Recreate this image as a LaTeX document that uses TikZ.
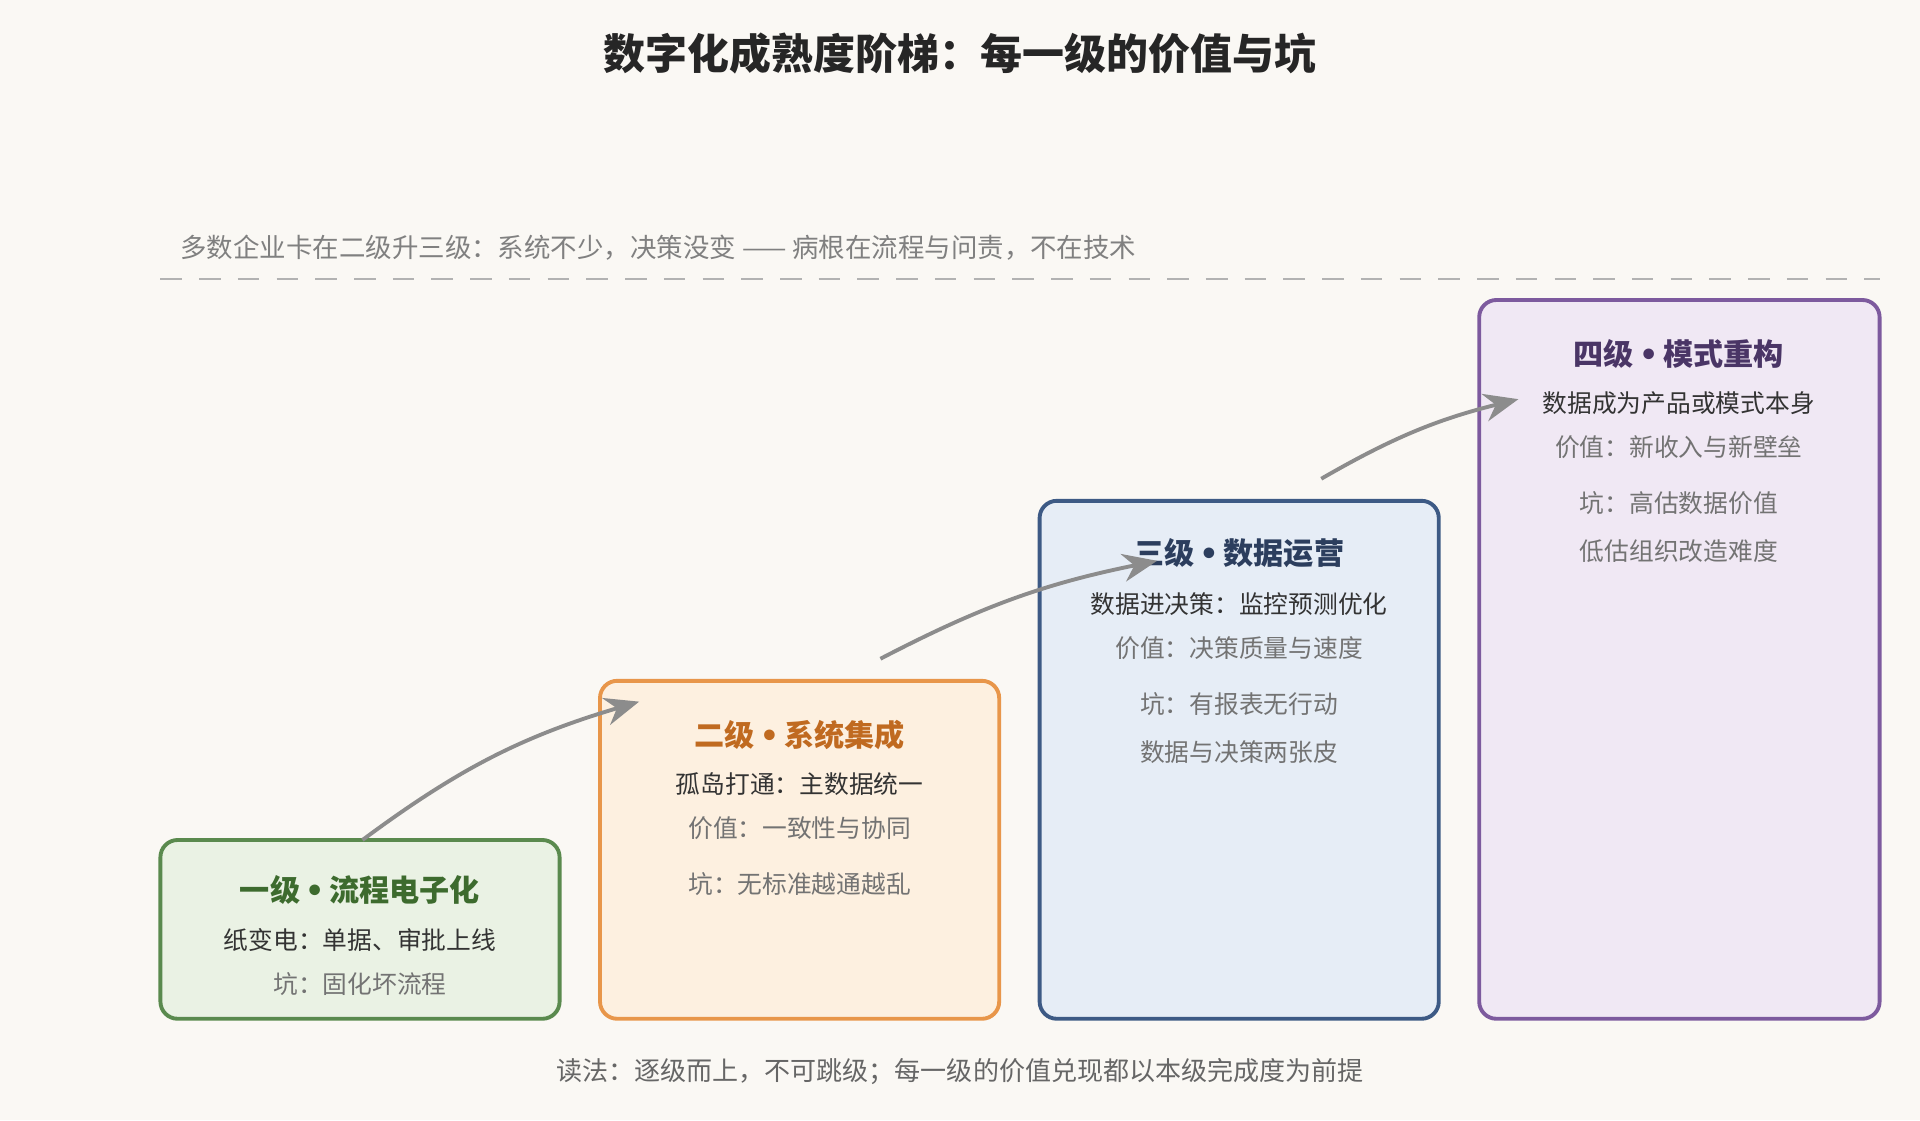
\documentclass[tikz,border=0pt]{standalone}
\usepackage{fontspec}
\setmainfont{Noto Sans CJK SC}
\newfontfamily\dotfont{DejaVu Sans}
\usetikzlibrary{positioning,arrows.meta}
\definecolor{bgc}{HTML}{FAF8F4}
\definecolor{gone}{HTML}{5A8A4E}\definecolor{fone}{HTML}{EAF2E4}\definecolor{tone}{HTML}{3D6B2E}
\definecolor{gtwo}{HTML}{E8964A}\definecolor{ftwo}{HTML}{FDF0E0}\definecolor{ttwo}{HTML}{C06A20}
\definecolor{gthr}{HTML}{3D5A85}\definecolor{fthr}{HTML}{E6EDF6}\definecolor{tthr}{HTML}{2C3E5E}
\definecolor{gfou}{HTML}{7D5A9E}\definecolor{ffou}{HTML}{F0E8F4}\definecolor{tfou}{HTML}{4A3566}
\newcommand{\sepdot}{{\dotfont\,•\,}}
\tikzset{
  stage/.style={rounded corners=8pt, line width=1.8pt},
  ttl/.style={font=\fontsize{14}{16}\selectfont\bfseries},
  txt/.style={font=\fontsize{11.5}{13}\selectfont, text=black!80},
  val/.style={font=\fontsize{11.5}{13}\selectfont, text=black!55},
  pit/.style={font=\fontsize{11.5}{13}\selectfont, text=black!55},
  climb/.style={-{Stealth[length=16pt,width=13pt]}, line width=1.8pt, draw=black!45}
}
\begin{document}
\begin{tikzpicture}[x=0.02cm,y=-0.02cm]
        % Background
        \fill[bgc] (0,0) rectangle (1568,915);
        % Title and note
        \node[font=\fontsize{19.5}{22}\selectfont\bfseries, text=black!85] (title) at (784,44) {数字化成熟度阶梯：每一级的价值与坑};
        \node[anchor=west, inner sep=0pt, font=\fontsize{12.3}{14}\selectfont, text=black!50] (note) at (147,202) {多数企业卡在二级升三级：系统不少，决策没变 —— 病根在流程与问责，不在技术};
        \draw[black!30, line width=1.2pt, dash pattern=on 10pt off 8pt] (131,228) -- (1535,228);
        % Stages
        \draw[stage, draw=gone, fill=fone] (131,686) rectangle (457,832);
        \draw[stage, draw=gtwo, fill=ftwo] (490,556) rectangle (816,832);
        \draw[stage, draw=gthr, fill=fthr] (849,409) rectangle (1175,832);
        \draw[stage, draw=gfou, fill=ffou] (1208,245) rectangle (1535,832);
        % Level one
        \node[ttl, text=tone] (one) at (294,727) {一级\sepdot 流程电子化};
        \node[txt] (onea) at (294,768) {纸变电：单据、审批上线};
        \node[pit] (oneb) at (294,804) {坑：固化坏流程};
        % Level two
        \node[ttl, text=ttwo] (two) at (653,600) {二级\sepdot 系统集成};
        \node[txt] (twoa) at (653,640) {孤岛打通：主数据统一};
        \node[val] (twob) at (653,676) {价值：一致性与协同};
        \node[pit] (twoc) at (653,722) {坑：无标准越通越乱};
        % Level three
        \node[ttl, text=tthr] (thr) at (1012,452) {三级\sepdot 数据运营};
        \node[txt] (thra) at (1012,493) {数据进决策：监控预测优化};
        \node[val] (thrb) at (1012,529) {价值：决策质量与速度};
        \node[pit] (thrc) at (1012,575) {坑：有报表无行动};
        \node[pit] (thrd) at (1012,614) {数据与决策两张皮};
        % Level four
        \node[ttl, text=tfou] (fou) at (1371,289) {四级\sepdot 模式重构};
        \node[txt] (foua) at (1371,329) {数据成为产品或模式本身};
        \node[val] (foub) at (1371,365) {价值：新收入与新壁垒};
        \node[pit] (fouc) at (1371,411) {坑：高估数据价值};
        \node[pit] (foud) at (1371,450) {低估组织改造难度};
        % Arrows between levels
        \coordinate (s1) at (296,686); \coordinate (e1) at (522,573);
        \coordinate (s2) at (719,538); \coordinate (e2) at (945,458);
        \coordinate (s3) at (1079,391); \coordinate (e3) at (1240,326);
        \draw[climb] (s1) to[bend left=10] (e1);
        \draw[climb] (s2) to[bend left=8] (e2);
        \draw[climb] (s3) to[bend left=8] (e3);
        % Reading hint
        \node[font=\fontsize{12.1}{14}\selectfont, text=black!60] (hint) at (784,875) {读法：逐级而上，不可跳级；每一级的价值兑现都以本级完成度为前提};
    \end{tikzpicture}
\end{document}
